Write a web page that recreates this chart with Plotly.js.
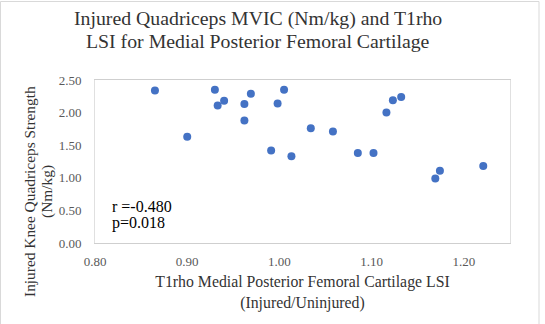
<!DOCTYPE html>
<html>
<head>
<meta charset="utf-8">
<script src="https://cdn.plot.ly/plotly-3.0.1.min.js"></script>
<style>
html,body{margin:0;padding:0;background:#fff;}
#chart{width:545px;height:324px;}
</style>
</head>
<body>
<div id="chart"></div>
<script>
// T1rho Medial Posterior Femoral Cartilage LSI (Injured/Uninjured)
const lsi = [0.865, 0.900, 0.930, 0.933, 0.940, 0.962, 0.962, 0.969, 0.991, 0.998, 1.005,
             1.013, 1.034, 1.058, 1.085, 1.102, 1.116, 1.123, 1.132, 1.169, 1.174, 1.221];
// Injured Knee Quadriceps Strength (Nm/kg)
const strength = [2.34, 1.63, 2.35, 2.11, 2.18, 2.13, 1.88, 2.29, 1.42, 2.14, 2.35,
                  1.33, 1.76, 1.71, 1.38, 1.38, 2.00, 2.19, 2.24, 0.99, 1.11, 1.18];
const xTicks = [0.80, 0.90, 1.00, 1.10, 1.20];
const yTicks = [0.00, 0.50, 1.00, 1.50, 2.00, 2.50];
const titleLines = ["Injured Quadriceps MVIC (Nm/kg) and T1rho", "LSI for Medial Posterior Femoral Cartilage"];
const yTitleLines = ["Injured Knee Quadriceps Strength", "(Nm/kg)"];
const statsText = ["r =-0.480", "p=0.018"];

const FONT = "Liberation Serif, DejaVu Serif, serif";
const W = 545, H = 324, L = 95, R = 35, T = 80, B = 81;
const pw = W - L - R, ph = H - T - B;
const px2x = p => (p - L) / pw;          // page x -> paper x
const py2y = p => (H - B - p) / ph;      // page y -> paper y

const trace = {
  type: "scatter", mode: "markers",
  x: lsi, y: strength,
  marker: {color: "#4472C4", size: 8},
  hoverinfo: "skip"
};

const titleAnn = titleLines.map((t, i) => ({
  xref: "paper", yref: "paper", x: px2x(258), y: py2y([19, 41][i]),
  xanchor: "center", yanchor: "middle", showarrow: false, text: t,
  font: {family: FONT, size: 19.8, color: "#333"}
}));
const yTitleAnn = yTitleLines.map((t, i) => ({
  xref: "paper", yref: "paper", x: px2x([29, 47][i]), y: py2y(192),
  xanchor: "center", yanchor: "middle", showarrow: false, text: t, textangle: -90,
  font: {family: FONT, size: 15.4, color: "#333"}
}));
const statAnn = statsText.map((t, i) => ({
  xref: "paper", yref: "paper", x: px2x(110), y: py2y([206, 223][i]),
  xanchor: "left", yanchor: "middle", align: "left", showarrow: false, text: t,
  font: {family: FONT, size: 16, color: "#000"}
}));

const layout = {
  width: W, height: H,
  margin: {l: L, r: R, t: T, b: B, pad: 0},
  paper_bgcolor: "#fff", plot_bgcolor: "#fff",
  showlegend: false,
  font: {family: FONT, color: "#404040"},
  xaxis: {
    range: [0.80, 1.25], tickvals: xTicks, ticktext: xTicks.map(v => v.toFixed(2)),
    showgrid: false, zeroline: false, showline: true, linecolor: "#cfcfcf", linewidth: 1,
    mirror: true, ticks: "", ticklabelstandoff: 6,
    tickfont: {family: FONT, size: 13, color: "#595959"},
    title: {text: "T1rho Medial Posterior Femoral Cartilage LSI<br>(Injured/Uninjured)",
            font: {family: FONT, size: 15.8, color: "#333"}, standoff: 8}
  },
  yaxis: {
    range: [0, 2.5], tickvals: yTicks, ticktext: yTicks.map(v => v.toFixed(2)),
    showgrid: false, zeroline: false, showline: true, linecolor: "#e0e0e0", linewidth: 1,
    mirror: true, ticks: "", ticklabelstandoff: 10,
    tickfont: {family: FONT, size: 13, color: "#595959"}
  },
  annotations: titleAnn.concat(yTitleAnn, statAnn),
  shapes: [{
    type: "rect", xref: "paper", yref: "paper",
    x0: px2x(0.5), x1: px2x(539),
    y0: py2y(330), y1: py2y(1.5),
    line: {color: "#d9d9d9", width: 1}, fillcolor: "rgba(0,0,0,0)", layer: "below"
  }]
};

Plotly.newPlot("chart", [trace], layout, {staticPlot: true, displayModeBar: false});
</script>
</body>
</html>
